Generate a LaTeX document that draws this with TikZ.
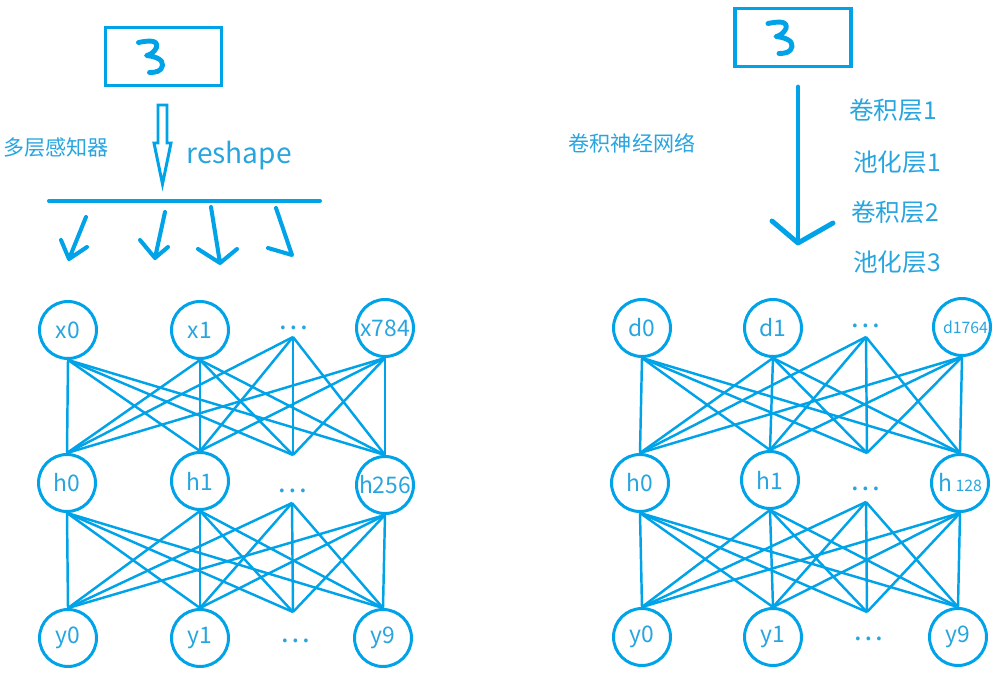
\documentclass[tikz,border=0pt]{standalone}
\usepackage{fontspec}
\usepackage{tikz}
\newfontfamily\cjk{Noto Sans CJK SC}
\usetikzlibrary{positioning}
\definecolor{paintblue}{RGB}{0,162,232}
\definecolor{labelblue}{RGB}{40,165,222}

\begin{document}
\begin{tikzpicture}[x=0.02cm, y=-0.02cm,
        neuron/.style={circle, draw=paintblue, line width=1.7pt, minimum size=1.14cm, inner sep=0pt, text=labelblue, font=\cjk\fontsize{13}{15}\selectfont},
        dotsnode/.style={text=labelblue, inner sep=0pt, font=\cjk\fontsize{16}{18}\selectfont},
        link/.style={draw=paintblue, line width=1.4pt},
        digitbox/.style={draw=paintblue, line width=2pt, minimum width=2.32cm, minimum height=1.16cm, inner sep=0pt},
        stroke/.style={draw=paintblue, line width=2.3pt, line cap=round, line join=round},
        caption/.style={text=labelblue, inner sep=0pt, font=\cjk\fontsize{12}{14}\selectfont},
        layername/.style={text=labelblue, inner sep=0pt, font=\cjk\fontsize{14}{16}\selectfont},
        handthree/.pic={\draw[stroke, line width=2.8pt] (-25,-14) .. controls (-15,-16) and (-5,-17) .. (-7,-9) .. controls (-9,-4) and (-15,-1) .. (-17,-1) .. controls (-8,0) and (0,3) .. (-1,9) .. controls (-2,15) and (-8,16) .. (-14,16);},
]
        \useasboundingbox (0,0) rectangle (1002,679);

        % left: multilayer perceptron
        \node[digitbox] (lbox) at (163.5,56.5) {};
        \pic at (lbox.center) {handthree};
        \node[caption] (mlp) at (56,148) {多层感知器};
        \node[text=labelblue, inner sep=0pt, font=\cjk\fontsize{16}{18}\selectfont] (reshape) at (239,156) {reshape};
        \draw[draw=paintblue, line width=1.7pt, line join=miter] (158,105) -- (167,105) -- (167,143) -- (171,143) -- (162.5,184) -- (154,143) -- (158,143) -- cycle;
        \draw[stroke] (49,201) -- (320,201);
        \draw[stroke] (86,217) -- (69,259) (61,240) -- (69,259) -- (87,247);
        \draw[stroke] (165,212) -- (155,258) (140,240) -- (155,258) -- (168,247);
        \draw[stroke] (211,207) -- (220,263) (198,249) -- (220,263) -- (237,249);
        \draw[stroke] (276,208) -- (292,255) -- (268,248);

        \node[neuron] (lx0) at (68,330) {x0};
        \node[neuron] (lx1) at (200,330) {x1};
        \node[dotsnode] (lxd) at (293,328) {…};
        \coordinate (lxdo) at (293,337);
        \node[neuron] (lx784) at (385,328) {x784};
        \node[neuron] (lh0) at (67,483) {h0};
        \node[neuron] (lh1) at (200,481) {h1};
        \node[dotsnode] (lhd) at (292,491) {…};
        \coordinate (lhdi) at (293,455);
        \coordinate (lhdo) at (292,503);
        \node[neuron] (lh256) at (385,485) {h256};
        \node[neuron] (ly0) at (68,638) {y0};
        \node[neuron] (ly1) at (200,638) {y1};
        \node[dotsnode] (lyd) at (295,641) {…};
        \coordinate (lydi) at (293,612);
        \node[neuron] (ly9) at (383,638) {y9};

        \foreach \a in {lx0,lx1,lxdo,lx784}
            \foreach \b in {lh0,lh1,lhdi,lh256}
                \draw[link] (\a.south) -- (\b.north);
        \foreach \a in {lh0,lh1,lhdo,lh256}
            \foreach \b in {ly0,ly1,lydi,ly9}
                \draw[link] (\a.south) -- (\b.north);

        % right: convolutional network
        \node[digitbox] (rbox) at (793,37.5) {};
        \pic at (rbox.center) {handthree};
        \node[caption] (cnn) at (632,143) {卷积神经网络};
        \coordinate (rarrtop) at (798,87);
        \coordinate (rarrtip) at (798,243);
        \draw[stroke, line width=2.8pt] (rarrtop) -- (rarrtip);
        \draw[stroke, line width=2.8pt] (772,221) -- (rarrtip) -- (833,223);
        \node[layername] (conva) at (893,110) {卷积层1};
        \node[layername] (poola) at (897,162) {池化层1};
        \node[layername] (convb) at (895,212) {卷积层2};
        \node[layername] (poolc) at (897,262) {池化层3};

        \node[neuron] (rd0) at (642,328) {d0};
        \node[neuron] (rd1) at (773,328) {d1};
        \node[dotsnode] (rdd) at (865,326) {…};
        \coordinate (rddo) at (866,337);
        \node[neuron, font=\cjk\fontsize{9}{11}\selectfont] (rd1764) at (962,327) {\hspace*{4pt}d1764};
        \node[neuron] (rh0) at (640,483) {h0};
        \node[neuron] (rh1) at (770,480) {h1};
        \node[dotsnode] (rhd) at (865,489) {…};
        \coordinate (rhdi) at (867,453);
        \coordinate (rhdo) at (866,502);
        \node[neuron] (rh128) at (960,483) {h\,{\fontsize{9}{11}\selectfont 128}};
        \node[neuron] (ry0) at (642,637) {y0};
        \node[neuron] (ry1) at (773,637) {y1};
        \node[dotsnode] (ryd) at (868,639) {…};
        \coordinate (rydi) at (867,612);
        \node[neuron] (ry9) at (958,637) {y9};

        \foreach \a in {rd0,rd1,rddo,rd1764}
            \foreach \b in {rh0,rh1,rhdi,rh128}
                \draw[link] (\a.south) -- (\b.north);
        \foreach \a in {rh0,rh1,rhdo,rh128}
            \foreach \b in {ry0,ry1,rydi,ry9}
                \draw[link] (\a.south) -- (\b.north);
\end{tikzpicture}
\end{document}
